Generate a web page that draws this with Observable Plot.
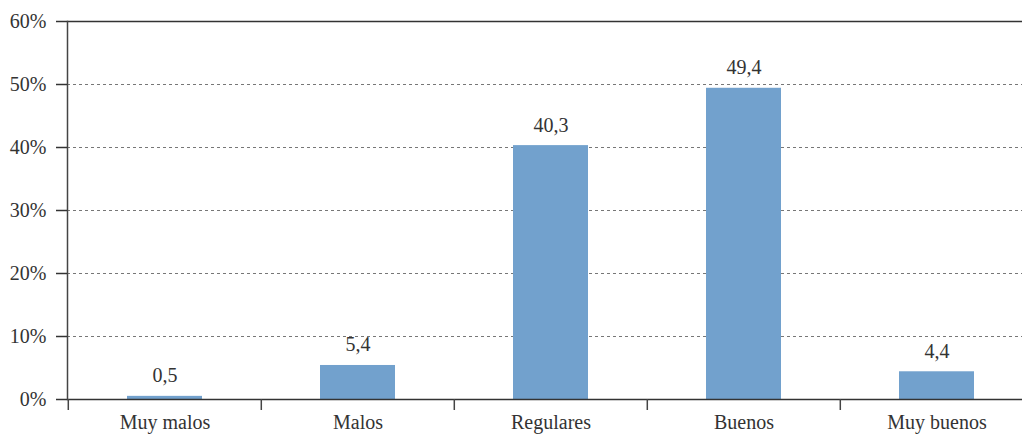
<!DOCTYPE html>
<html>
<head>
<meta charset="utf-8">
<script src="https://cdn.jsdelivr.net/npm/d3@7"></script>
<script src="https://cdn.jsdelivr.net/npm/@observablehq/plot@0.6"></script>
<style>
  html, body { margin: 0; padding: 0; background: #fff; overflow: hidden; }
</style>
</head>
<body>
<div id="chart"></div>
<script>
const categories = ["Muy malos", "Malos", "Regulares", "Buenos", "Muy buenos"];
const values = [0.5, 5.4, 40.3, 49.4, 4.4];
const yTicks = [0, 10, 20, 30, 40, 50, 60];
const gridTicks = [10, 20, 30, 40, 50];

const data = categories.map((c, i) => ({cat: c, val: values[i]}));
const fmt = v => v.toFixed(1).replace(".", ",");

const step = (1034 - 67) / categories.length;

const chart = Plot.plot({
  width: 1022,
  height: 434,
  marginLeft: 67,
  marginRight: 0,
  marginTop: 21,
  marginBottom: 35,
  style: {fontFamily: "'Liberation Serif', 'DejaVu Serif', serif", fontSize: "20px", color: "#333", background: "#fff"},
  x: {domain: categories, range: [67, 1034], paddingInner: 0.61, paddingOuter: 0.305, label: null},
  y: {domain: [0, 60], label: null},
  marks: [
    Plot.ruleY(gridTicks, {stroke: "#777", strokeWidth: 1, strokeDasharray: "3,3"}),
    Plot.barY(data, {x: "cat", y: "val", fill: "#72a1cd"}),
    Plot.text(data, {x: "cat", y: "val", text: d => fmt(d.val), lineAnchor: "bottom", dy: -14, fill: "#333", fontSize: 20}),
    Plot.ruleY([0, 60], {stroke: "#333", strokeWidth: 1.5}),
    Plot.frame({anchor: "left", stroke: "#444", strokeWidth: 1.5}),
    Plot.ruleX(categories, {x: d => d, y1: 0, y2: 0, insetBottom: -11, dx: -step / 2, stroke: "#444", strokeWidth: 1.5}),
    Plot.axisY({ticks: yTicks, tickFormat: d => d + "%", tickSize: 11, tickPadding: 10, stroke: "#333", strokeWidth: 1.5, fill: "#333", fontSize: 20, label: null}),
    Plot.axisX({tickSize: 0, tickPadding: 15, fill: "#333", fontSize: 20, label: null})
  ]
});
document.getElementById("chart").appendChild(chart);
</script>
</body>
</html>
